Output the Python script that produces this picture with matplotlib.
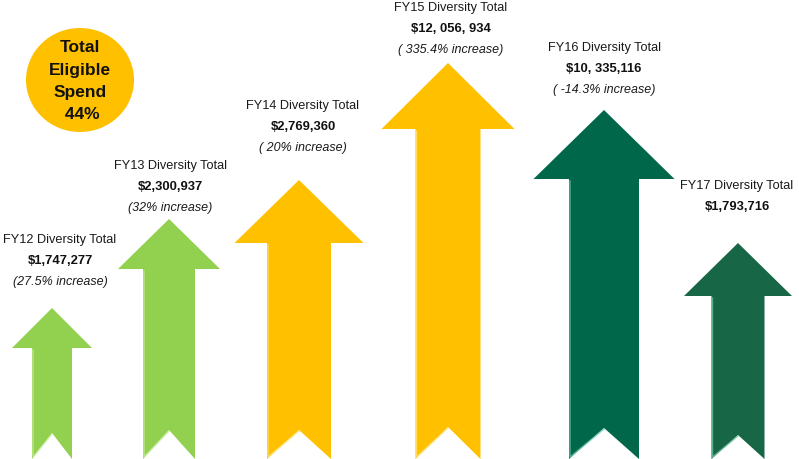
import matplotlib.pyplot as plt
from matplotlib.patches import Polygon, Ellipse

# data
years = ['FY12', 'FY13', 'FY14', 'FY15', 'FY16', 'FY17']
totals = ['$1,747,277', '$2,300,937', '$2,769,360', '$12, 056, 934', '$10, 335,116', '$1,793,716']
changes = ['(27.5% increase)', '(32% increase)', '( 20% increase)', '( 335.4% increase)',
           '( -14.3% increase)', '']
eligible_pct = '44%'

# arrow layout (pixel coords, y downwards)
centers = [52, 169, 299, 448, 604, 738]
tips = [308, 219, 180, 63, 110, 243]
head_half = [40, 51, 64.5, 66.5, 70.5, 54]
head_depth = [40, 50, 63, 66, 69, 53]
shaft_half = [20, 26, 32, 32.5, 35, 26.5]
notch = [26, 29, 29, 32, 31, 24]
colors = ['#92D050', '#92D050', '#FFC000', '#FFC000', '#00674B', '#176747']
edge_light = ['#C6EC9A', '#C6EC9A', '#FFE27A', '#FFE27A', '#6FC7A8', '#6FBE9C']

# label layout
label_x = [60, 170, 303, 451, 604, 737]
label_y = [240, 166, 106, 8, 48, 186]

plt.rcParams['font.family'] = ['Liberation Sans', 'DejaVu Sans']
fig = plt.figure(figsize=(7.99, 4.59), dpi=100)
ax = fig.add_axes([0, 0, 1, 1])
ax.set_xlim(0, 799)
ax.set_ylim(459, 0)
ax.axis('off')

bottom = 459
for i in range(len(years)):
    cx = centers[i]
    base = tips[i] + head_depth[i]
    pts = [(cx, tips[i]), (cx + head_half[i], base), (cx + shaft_half[i], base),
           (cx + shaft_half[i], bottom), (cx, bottom - notch[i]),
           (cx - shaft_half[i], bottom), (cx - shaft_half[i], base),
           (cx - head_half[i], base)]
    ax.add_patch(Polygon(pts, closed=True, facecolor=colors[i], edgecolor='none'))
    # light bevel on the left of the shaft and notch
    ax.plot([cx - shaft_half[i] + 1, cx - shaft_half[i] + 1, cx, ],
            [base + 2, bottom - 2, bottom - notch[i] + 1],
            color=edge_light[i], lw=1.0, alpha=0.8)

    ax.text(label_x[i], label_y[i], years[i] + ' Diversity Total', ha='center', va='center',
            fontsize=9.2, color='#1a1a1a')
    ax.text(label_x[i], label_y[i] + 21.5, totals[i], ha='center', va='center',
            fontsize=9.4, fontweight='bold', color='#111111')
    if changes[i]:
        ax.text(label_x[i], label_y[i] + 42, changes[i], ha='center', va='center',
                fontsize=9, style='italic', color='#1a1a1a')

ax.add_patch(Ellipse((80, 80), 108, 104, facecolor='#FFC000', edgecolor='none'))
circle_lines = ['Total', 'Eligible', 'Spend', ' ' + eligible_pct]
for j, line in enumerate(circle_lines):
    ax.text(80, 48 + j * 22.3, line, ha='center', va='center', fontsize=12.5,
            fontweight='bold', color='#111111')

fig.savefig('out.png', dpi=100)
